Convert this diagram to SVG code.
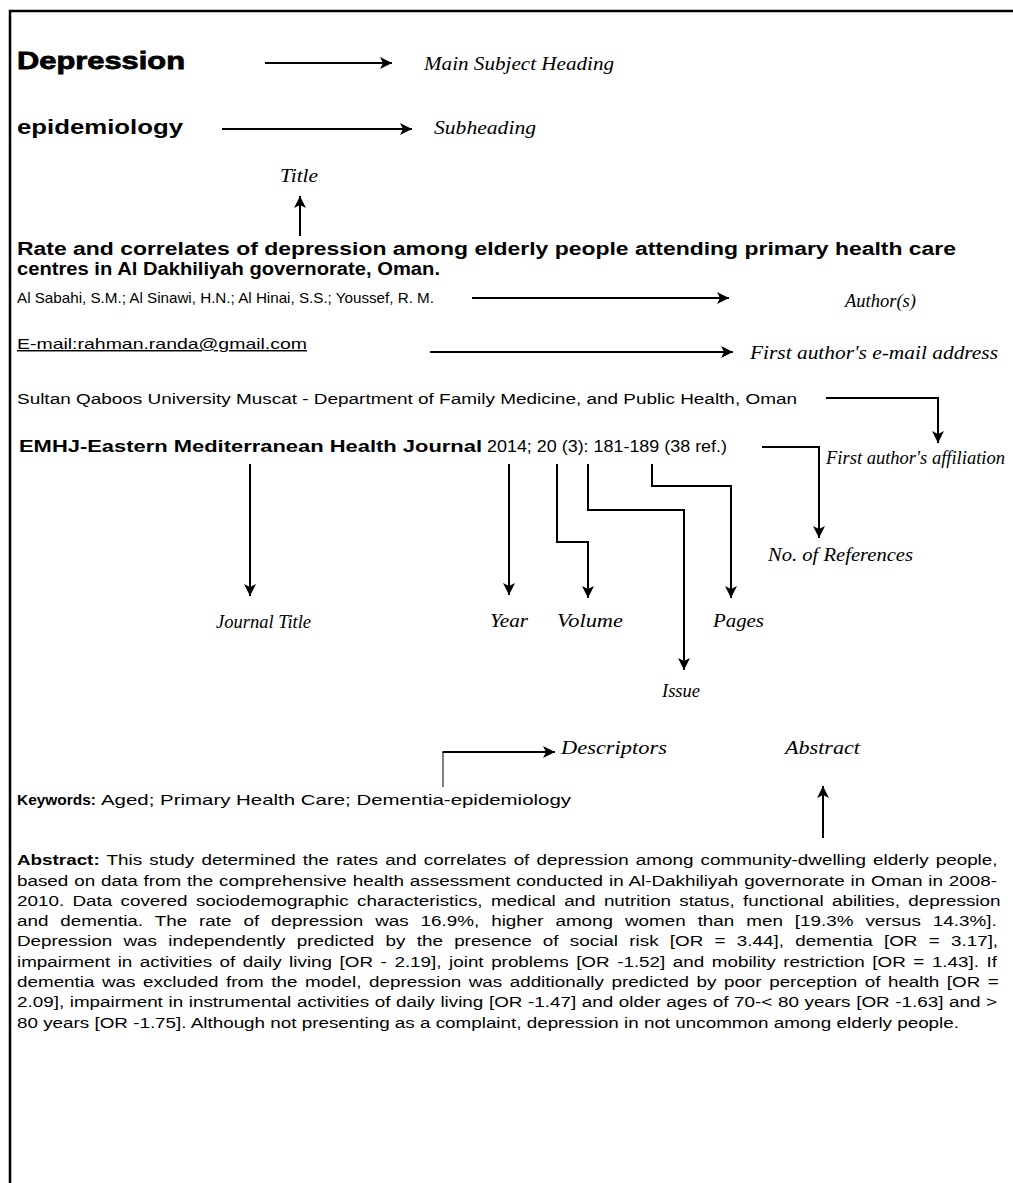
<svg xmlns="http://www.w3.org/2000/svg" width="1013" height="1183" viewBox="0 0 1013 1183">
<defs>
<marker id="ah" viewBox="0 0 12 12" refX="12" refY="6" markerWidth="12" markerHeight="12" markerUnits="userSpaceOnUse" orient="auto">
<path d="M0,0 L12,6 L0,12 L3,6 z" fill="#000"/>
</marker>
<style>
.s{font-family:"Liberation Sans",Arial,sans-serif;fill:#000}
.b{font-weight:bold}
.lab{font-family:"Liberation Serif","Times New Roman",serif;font-style:italic;font-size:18.5px;fill:#000}
.ca{fill:none;stroke:#000;stroke-width:2;marker-end:url(#ah)}
</style>
</defs>
<rect width="1013" height="1183" fill="#fff"/>
<path d="M10,1183 V11 H1013" fill="none" stroke="#000" stroke-width="2.5"/>

<g id="heading">
<text class="s b" x="17" y="69" font-size="24" stroke="#000" stroke-width="0.8" textLength="168" lengthAdjust="spacingAndGlyphs">Depression</text>
</g>
<g id="subheading">
<text class="s b" x="17" y="134" font-size="21" textLength="166" lengthAdjust="spacingAndGlyphs">epidemiology</text>
</g>
<g id="title">
<text class="s b" x="17" y="255" font-size="17.5" textLength="939" lengthAdjust="spacingAndGlyphs">Rate and correlates of depression among elderly people attending primary health care</text>
<text class="s b" x="17" y="275" font-size="17.5" textLength="423" lengthAdjust="spacingAndGlyphs">centres in Al Dakhiliyah governorate, Oman.</text>
</g>
<g id="authors">
<text class="s" x="17" y="303" font-size="14.5" textLength="417" lengthAdjust="spacingAndGlyphs">Al Sabahi, S.M.; Al Sinawi, H.N.; Al Hinai, S.S.; Youssef, R. M.</text>
</g>
<g id="email">
<text class="s" x="17" y="349" font-size="14.5" text-decoration="underline" textLength="290" lengthAdjust="spacingAndGlyphs">E-mail:rahman.randa@gmail.com</text>
</g>
<g id="affiliation">
<text class="s" x="17" y="404" font-size="14" textLength="780" lengthAdjust="spacingAndGlyphs">Sultan Qaboos University Muscat - Department of Family Medicine, and Public Health, Oman</text>
</g>
<g id="journal">
<text class="s b" x="19" y="452" font-size="16.5" textLength="463" lengthAdjust="spacingAndGlyphs">EMHJ-Eastern Mediterranean Health Journal</text>
<text class="s" x="487" y="452" font-size="16" textLength="240" lengthAdjust="spacingAndGlyphs">2014; 20 (3): 181-189 (38 ref.)</text>
</g>
<g id="keywords">
<text class="s b" x="17" y="805" font-size="15.5" textLength="79" lengthAdjust="spacingAndGlyphs">Keywords:</text>
<text class="s" x="101" y="805" font-size="14.5" textLength="470" lengthAdjust="spacingAndGlyphs">Aged; Primary Health Care; Dementia-epidemiology</text>
</g>
<g id="abstract" class="s" font-size="14.5" transform="translate(17,0) scale(1.3,1)">
<text x="0" y="865" word-spacing="1.5"><tspan class="b">Abstract:</tspan> This study determined the rates and correlates of depression among community-dwelling elderly people,</text>
<text x="0" y="886" word-spacing="0.5">based on data from the comprehensive health assessment conducted in Al-Dakhiliyah governorate in Oman in 2008-</text>
<text x="0" y="906" word-spacing="2.39">2010. Data covered sociodemographic characteristics, medical and nutrition status, functional abilities, depression</text>
<text x="0" y="926" word-spacing="5.17">and dementia. The rate of depression was 16.9%, higher among women than men [19.3% versus 14.3%].</text>
<text x="0" y="946" word-spacing="4.65">Depression was independently predicted by the presence of social risk [OR = 3.44], dementia [OR = 3.17],</text>
<text x="0" y="967" word-spacing="1.78">impairment in activities of daily living [OR - 2.19], joint problems [OR -1.52] and mobility restriction [OR = 1.43]. If</text>
<text x="0" y="987" word-spacing="1.79">dementia was excluded from the model, depression was additionally predicted by poor perception of health [OR =</text>
<text x="0" y="1007" word-spacing="0.3">2.09], impairment in instrumental activities of daily living [OR -1.47] and older ages of 70-&lt; 80 years [OR -1.63] and &gt;</text>
<text x="0" y="1028">80 years [OR -1.75]. Although not presenting as a complaint, depression in not uncommon among elderly people.</text>
</g>

<g id="labels">
<text class="lab" x="424" y="70" textLength="190" lengthAdjust="spacingAndGlyphs">Main Subject Heading</text>
<text class="lab" x="434" y="134" textLength="102" lengthAdjust="spacingAndGlyphs">Subheading</text>
<text class="lab" x="280" y="182" textLength="38" lengthAdjust="spacingAndGlyphs">Title</text>
<text class="lab" x="845" y="307">Author(s)</text>
<text class="lab" x="750" y="359" textLength="248" lengthAdjust="spacingAndGlyphs">First author's e-mail address</text>
<text class="lab" x="826" y="464" font-size="15" textLength="179" lengthAdjust="spacingAndGlyphs">First author's affiliation</text>
<text class="lab" x="768" y="561" textLength="145" lengthAdjust="spacingAndGlyphs">No. of References</text>
<text class="lab" x="216" y="628" font-size="17.5">Journal Title</text>
<text class="lab" x="490" y="627" textLength="38" lengthAdjust="spacingAndGlyphs">Year</text>
<text class="lab" x="557" y="627" textLength="66" lengthAdjust="spacingAndGlyphs">Volume</text>
<text class="lab" x="713" y="627" textLength="51" lengthAdjust="spacingAndGlyphs">Pages</text>
<text class="lab" x="662" y="697">Issue</text>
<text class="lab" x="561" y="754" textLength="106" lengthAdjust="spacingAndGlyphs">Descriptors</text>
<text class="lab" x="785" y="754" textLength="75" lengthAdjust="spacingAndGlyphs">Abstract</text>
</g>

<g id="connectors">
<path class="ca" d="M265,63 H392"/>
<path class="ca" d="M222,129 H412"/>
<path class="ca" d="M300,236 V196"/>
<path class="ca" d="M472,298 H729"/>
<path class="ca" d="M430,352 H733"/>
<path class="ca" d="M826,398 H938 V443"/>
<path class="ca" d="M762,447 H819 V538"/>
<path class="ca" d="M250,464 V596"/>
<path class="ca" d="M509,464 V595"/>
<path class="ca" d="M557,464 V542 H588 V598"/>
<path class="ca" d="M588,464 V510 H684 V670"/>
<path class="ca" d="M652,464 V486 H731 V598"/>
<path fill="none" stroke="#000" stroke-width="1" d="M443,787 V752"/>
<path class="ca" d="M442.5,752 H555"/>
<path class="ca" d="M823,838 V786"/>
</g>
</svg>
